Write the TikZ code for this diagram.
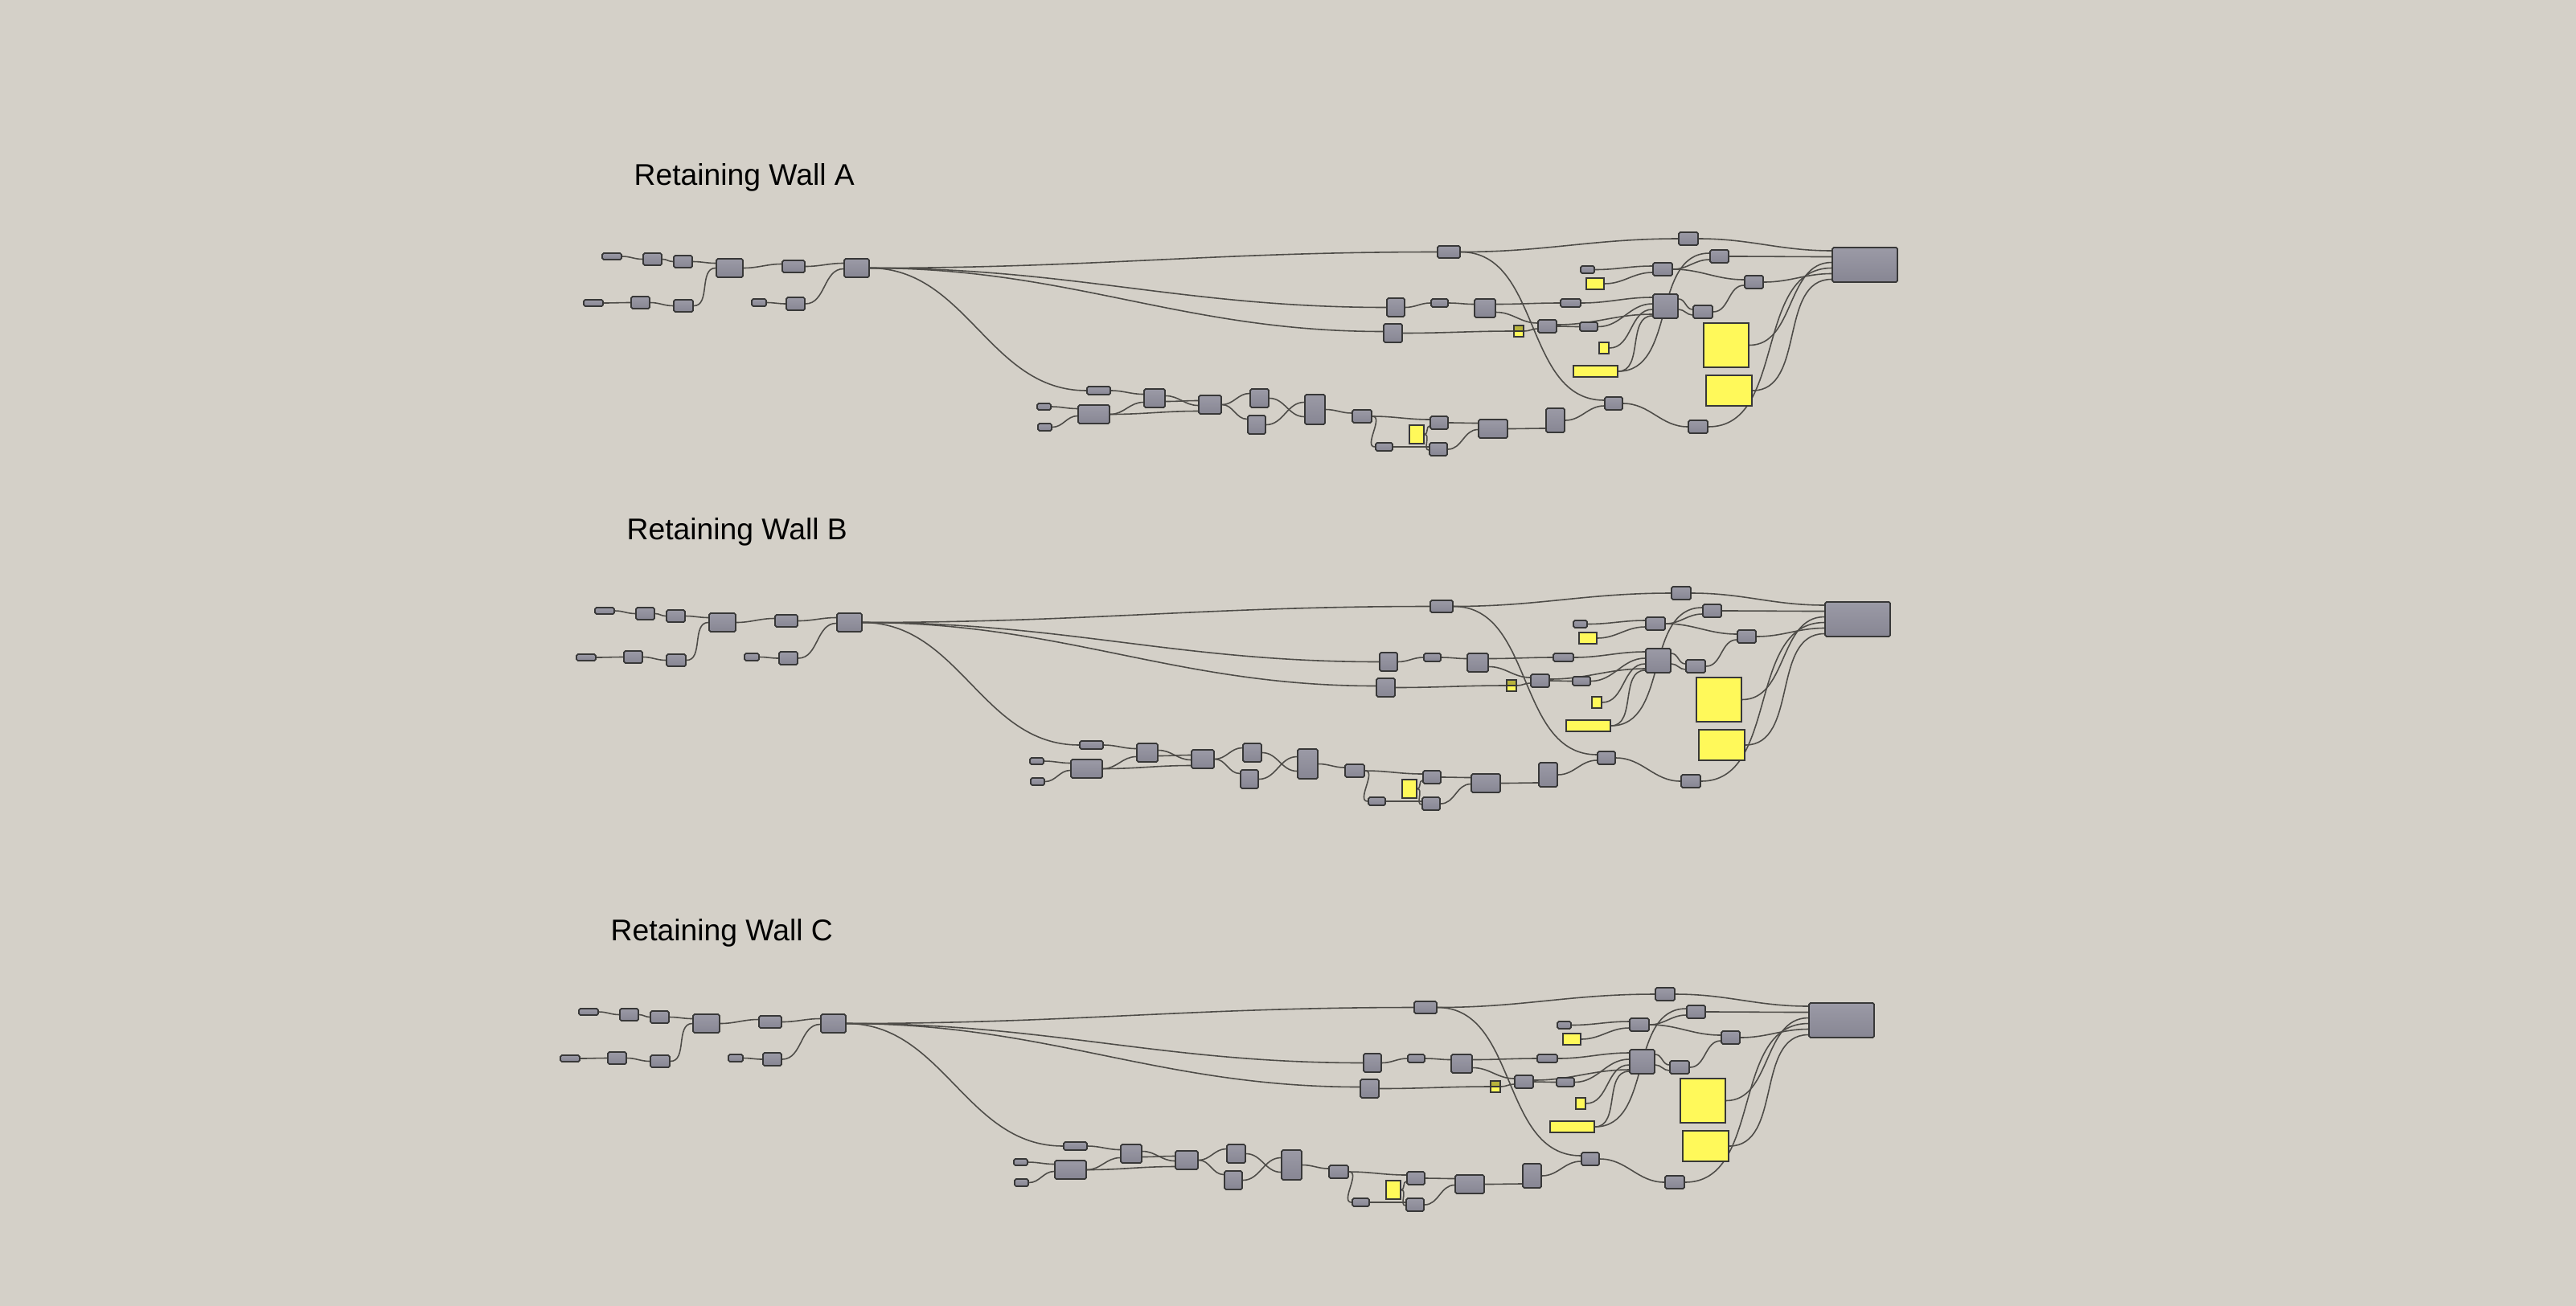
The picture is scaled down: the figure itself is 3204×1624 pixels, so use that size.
\documentclass[tikz,border=0pt]{standalone}
\usepackage{fontspec}
\setmainfont{Liberation Sans}
\usetikzlibrary{calc}
\pgfdeclarelayer{back}
\pgfdeclarelayer{wires}
\pgfsetlayers{back,wires,main}
\definecolor{canvas}{HTML}{D4D0C8}
\definecolor{gtop}{HTML}{9B9AA6}
\definecolor{gbot}{HTML}{878693}
\definecolor{edge}{HTML}{383838}
\definecolor{panelc}{HTML}{FFF95A}
\definecolor{toggledark}{HTML}{B8B33C}
\definecolor{wirec}{HTML}{4E4C48}
\newcommand\wire[4]{\draw[wire] ($(#1.east)+(0,#2)$) to[out=0,in=180] ($(#3.west)+(0,#4)$);}

\begin{document}
\begin{tikzpicture}[x=0.01cm,y=-0.01cm,
comp/.style={draw=edge,line width=0.5pt,rounded corners=0.5pt,top color=gtop,bottom color=gbot,inner sep=0pt},
panel/.style={draw=edge,line width=0.5pt,fill=panelc,inner sep=0pt},
toggle/.style={panel,path picture={
  \fill[toggledark] (path picture bounding box.north west) rectangle (path picture bounding box.east);
  \draw[edge,line width=0.3pt] (path picture bounding box.west) -- (path picture bounding box.east);}},
sz/.style 2 args={minimum width=#1*0.01cm,minimum height=#2*0.01cm},
wire/.style={draw=wirec,line width=0.45pt},
title/.style={anchor=base west,inner sep=0pt,font=\fontsize{10.6}{12}\selectfont}]
\useasboundingbox (0,0) rectangle (3204,1624);
\begin{pgfonlayer}{back}
\fill[canvas] (-10,-10) rectangle (3214,1634);
\end{pgfonlayer}
\foreach \g/\dx/\dy in {A/0/0,B/-9/441,C/-29/940}{
\begin{scope}[shift={(\dx,\dy)}]
\node[title] (\g t) at (788,230) {Retaining Wall \g};
\node[comp,sz={24}{8}] (\g n1) at (761,319) {};
\node[comp,sz={23}{15}] (\g n2) at (811.5,322.5) {};
\node[comp,sz={23}{15}] (\g n3) at (849.5,325.5) {};
\node[comp,sz={33}{23}] (\g n4) at (907.5,333.5) {};
\node[comp,sz={28}{15}] (\g n5) at (987,331.5) {};
\node[comp,sz={31}{23}] (\g n6) at (1065.5,333.5) {};
\node[comp,sz={24}{8}] (\g m1) at (738,377) {};
\node[comp,sz={23}{15}] (\g m2) at (796.5,376.5) {};
\node[comp,sz={24}{15}] (\g m3) at (850,380.5) {};
\node[comp,sz={18}{9}] (\g k1) at (944,376.5) {};
\node[comp,sz={23}{16}] (\g k2) at (989.5,378) {};
\node[comp,sz={28}{15}] (\g T1) at (1802,313.5) {};
\node[comp,sz={22}{23}] (\g P1) at (1736,382.5) {};
\node[comp,sz={23}{23}] (\g P2) at (1732.5,414.5) {};
\node[comp,sz={21}{10}] (\g Q1) at (1790.5,377) {};
\node[comp,sz={26}{23}] (\g Q2) at (1847,383.5) {};
\node[comp,sz={25}{10}] (\g R) at (1953.5,377) {};
\node[comp,sz={23}{16}] (\g S) at (1924.5,406) {};
\node[comp,sz={22}{11}] (\g Z) at (1976,406.5) {};
\node[comp,sz={17}{9}] (\g V) at (1974.5,335.5) {};
\node[comp,sz={24}{16}] (\g V2) at (2068,335) {};
\node[comp,sz={31}{30}] (\g W) at (2071.5,381) {};
\node[comp,sz={24}{16}] (\g X) at (2118,388) {};
\node[comp,sz={24}{16}] (\g T2) at (2100,297) {};
\node[comp,sz={23}{16}] (\g U1) at (2138.5,319) {};
\node[comp,sz={23}{16}] (\g U2) at (2181.5,351) {};
\node[comp,sz={81}{43}] (\g OUT) at (2319.5,329.5) {};
\node[comp,sz={22}{16}] (\g F) at (2007,502) {};
\node[comp,sz={24}{16}] (\g G) at (2112,531) {};
\node[comp,sz={29}{10}] (\g b1) at (1366.5,486) {};
\node[comp,sz={17}{8}] (\g b2) at (1298.5,506) {};
\node[comp,sz={17}{9}] (\g b3) at (1299.5,531.5) {};
\node[comp,sz={39}{23}] (\g b4) at (1360.5,515.5) {};
\node[comp,sz={26}{23}] (\g b5) at (1436,495.5) {};
\node[comp,sz={28}{23}] (\g b6) at (1505,503.5) {};
\node[comp,sz={23}{23}] (\g b7) at (1566.5,495.5) {};
\node[comp,sz={22}{23}] (\g b8) at (1563,528.5) {};
\node[comp,sz={25}{37}] (\g b9) at (1635.5,509.5) {};
\node[comp,sz={24}{16}] (\g b10) at (1694,518) {};
\node[comp,sz={21}{10}] (\g b11) at (1721.5,556) {};
\node[comp,sz={22}{16}] (\g b12) at (1790,526) {};
\node[comp,sz={22}{16}] (\g b13) at (1789,559) {};
\node[comp,sz={36}{23}] (\g b14) at (1857,533.5) {};
\node[comp,sz={23}{30}] (\g b15) at (1934.5,523) {};
\node[toggle,sz={12}{14}] (\g Y1) at (1889,412) {};
\node[panel,sz={18}{23}] (\g Y2) at (1762,540.5) {};
\node[panel,sz={22}{14}] (\g Yb) at (1984,353) {};
\node[panel,sz={12}{14}] (\g Yc) at (1995,433) {};
\node[panel,sz={55}{14}] (\g Yd) at (1984.5,462) {};
\node[panel,sz={56}{55}] (\g YL1) at (2147,429.5) {};
\node[panel,sz={57}{38}] (\g YL2) at (2150.5,486) {};
\begin{pgfonlayer}{wires}
\wire{\g n1}{0}{\g n2}{0}
\wire{\g n2}{0}{\g n3}{0}
\wire{\g n3}{0}{\g n4}{-6}
\wire{\g m1}{0}{\g m2}{0}
\wire{\g m2}{0}{\g m3}{0}
\wire{\g m3}{0}{\g n4}{0}
\wire{\g n4}{0}{\g n5}{-3}
\wire{\g n5}{0}{\g n6}{-6}
\wire{\g k1}{0}{\g k2}{0}
\wire{\g k2}{0}{\g n6}{1}
\wire{\g n6}{0}{\g T1}{0}
\wire{\g n6}{0}{\g P1}{0}
\wire{\g n6}{0}{\g P2}{-2}
\wire{\g n6}{0}{\g b1}{0}
\wire{\g P1}{0}{\g Q1}{0}
\wire{\g Q1}{0}{\g Q2}{-5}
\wire{\g Q2}{-5}{\g R}{0}
\wire{\g Q2}{5}{\g S}{-4}
\wire{\g P2}{0}{\g Y1}{0}
\wire{\g Y1}{0}{\g S}{3}
\wire{\g S}{0}{\g Z}{0}
\wire{\g S}{-2}{\g W}{10}
\wire{\g R}{0}{\g W}{-11}
\wire{\g Z}{0}{\g W}{-3}
\wire{\g Yc}{0}{\g W}{4}
\wire{\g Yd}{0}{\g W}{12}
\wire{\g Yd}{0}{\g U1}{-4}
\wire{\g V}{0}{\g V2}{-4}
\wire{\g Yb}{0}{\g V2}{4}
\wire{\g V2}{0}{\g U1}{4}
\wire{\g V2}{0}{\g U2}{-3}
\wire{\g W}{-9}{\g X}{-3}
\wire{\g W}{4}{\g X}{4}
\wire{\g X}{0}{\g U2}{4}
\wire{\g T1}{0}{\g T2}{0}
\wire{\g T2}{0}{\g OUT}{-17.5}
\wire{\g U1}{0}{\g OUT}{-10}
\wire{\g YL1}{0}{\g OUT}{-3}
\wire{\g G}{0}{\g OUT}{4}
\wire{\g U2}{0}{\g OUT}{11}
\wire{\g YL2}{0}{\g OUT}{18}
\wire{\g T1}{0}{\g F}{-4}
\wire{\g b15}{0}{\g F}{3}
\wire{\g F}{0}{\g G}{0}
\wire{\g b1}{0}{\g b5}{-5}
\wire{\g b2}{0}{\g b4}{-7}
\wire{\g b3}{0}{\g b4}{2}
\wire{\g b4}{0}{\g b5}{5}
\wire{\g b4}{0}{\g b6}{8}
\wire{\g b5}{-3}{\g b6}{1}
\wire{\g b5}{4}{\g b6}{-5}
\wire{\g b6}{0}{\g b7}{-6}
\wire{\g b6}{0}{\g b8}{-7}
\wire{\g b7}{0}{\g b9}{9}
\wire{\g b8}{0}{\g b9}{-9}
\wire{\g b9}{0}{\g b10}{-4}
\wire{\g b10}{0}{\g b12}{-4}
\wire{\g b10}{0}{\g b11}{0}
\wire{\g b11}{0}{\g b13}{-3}
\wire{\g Y2}{0}{\g b12}{4}
\wire{\g Y2}{0}{\g b13}{1}
\wire{\g b12}{0}{\g b14}{-7}
\wire{\g b13}{0}{\g b14}{1}
\wire{\g b14}{0}{\g b15}{10}
\end{pgfonlayer}
\end{scope}
}
\end{tikzpicture}
\end{document}
